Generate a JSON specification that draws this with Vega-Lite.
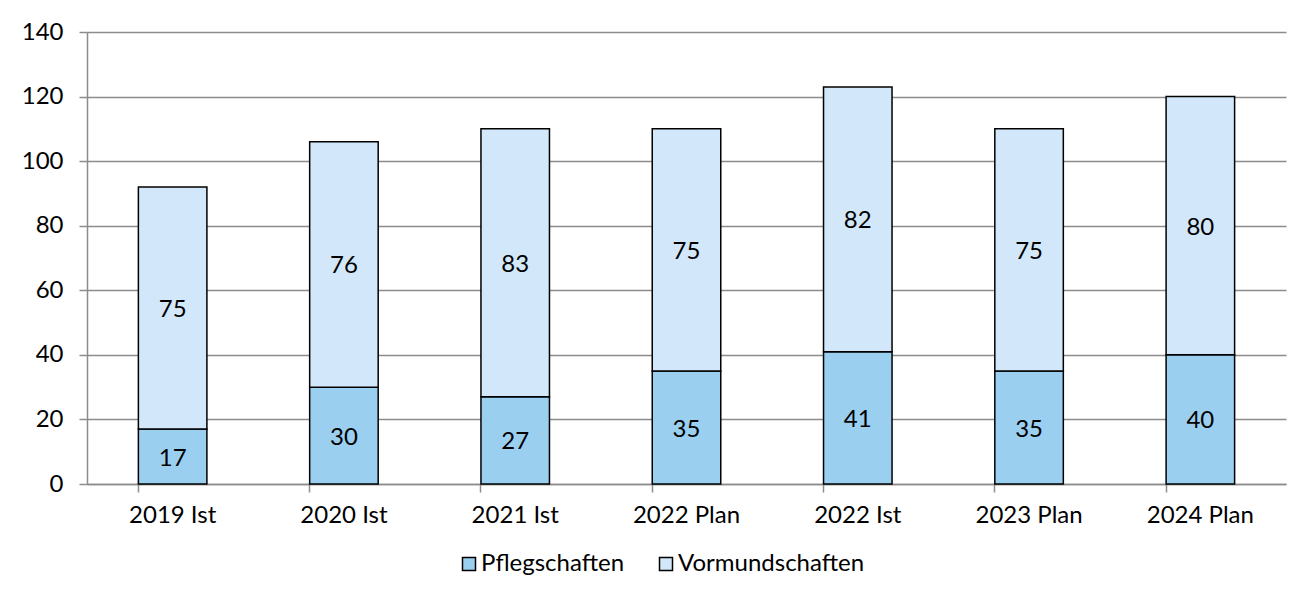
{
  "$schema": "https://vega.github.io/schema/vega-lite/v6.json",
  "width": 1199,
  "height": 452,
  "autosize": "none",
  "padding": {"left": 87, "top": 32, "right": 27, "bottom": 112},
  "background": "white",
  "config": {
    "font": "Lato",
    "view": {"stroke": null}
  },
  "data": {
    "values": [
      {"cat": "2019 Ist", "series": "Pflegschaften", "ord": 1, "value": 17},
      {"cat": "2019 Ist", "series": "Vormundschaften", "ord": 2, "value": 75},
      {"cat": "2020 Ist", "series": "Pflegschaften", "ord": 1, "value": 30},
      {"cat": "2020 Ist", "series": "Vormundschaften", "ord": 2, "value": 76},
      {"cat": "2021 Ist", "series": "Pflegschaften", "ord": 1, "value": 27},
      {"cat": "2021 Ist", "series": "Vormundschaften", "ord": 2, "value": 83},
      {"cat": "2022 Plan", "series": "Pflegschaften", "ord": 1, "value": 35},
      {"cat": "2022 Plan", "series": "Vormundschaften", "ord": 2, "value": 75},
      {"cat": "2022 Ist", "series": "Pflegschaften", "ord": 1, "value": 41},
      {"cat": "2022 Ist", "series": "Vormundschaften", "ord": 2, "value": 82},
      {"cat": "2023 Plan", "series": "Pflegschaften", "ord": 1, "value": 35},
      {"cat": "2023 Plan", "series": "Vormundschaften", "ord": 2, "value": 75},
      {"cat": "2024 Plan", "series": "Pflegschaften", "ord": 1, "value": 40},
      {"cat": "2024 Plan", "series": "Vormundschaften", "ord": 2, "value": 80}
    ]
  },
  "transform": [
    {"stack": "value", "groupby": ["cat"], "sort": [{"field": "ord", "order": "ascending"}], "as": ["v0", "v1"]},
    {"calculate": "(datum.v0 + datum.v1) / 2", "as": "vmid"}
  ],
  "encoding": {
    "x": {
      "field": "cat", "type": "nominal", "sort": null,
      "scale": {"paddingInner": 0.6, "paddingOuter": 0.3},
      "axis": {
        "title": null, "labelAngle": 0, "labelPadding": 11, "tickSize": 8,
        "labelFont": "Lato", "labelFontSize": 24, "labelColor": "black",
        "bandPosition": 0, "domainColor": "#8c8c8c", "domainWidth": 1.5,
        "tickColor": "#8c8c8c", "tickWidth": 1.5, "grid": false
      }
    }
  },
  "layer": [
    {
      "mark": {"type": "bar", "stroke": "black", "strokeWidth": 1.5},
      "encoding": {
        "y": {
          "field": "v0", "type": "quantitative",
          "scale": {"domain": [0, 140], "nice": false},
          "axis": {
            "title": null, "values": [0, 20, 40, 60, 80, 100, 120, 140],
            "labelFont": "Lato", "labelFontSize": 24, "labelColor": "black",
            "tickSize": 8, "labelPadding": 16, "tickColor": "#8c8c8c", "tickWidth": 1.5,
            "domainColor": "#8c8c8c", "domainWidth": 1.5,
            "gridColor": "#8c8c8c", "gridWidth": 1.5
          }
        },
        "y2": {"field": "v1"},
        "color": {
          "field": "series", "type": "nominal",
          "scale": {"domain": ["Pflegschaften", "Vormundschaften"], "range": ["#9BCFF0", "#D2E8FA"]},
          "legend": {
            "title": null, "orient": "none", "direction": "horizontal",
            "legendX": 370, "legendY": 520, "labelLimit": 0,
            "labelFont": "Lato", "labelFontSize": 24, "labelColor": "black",
            "symbolType": "square", "symbolSize": 169, "symbolStrokeColor": "black",
            "symbolStrokeWidth": 1.5, "symbolOpacity": 1, "columnPadding": 29, "labelOffset": 0
          }
        }
      }
    },
    {
      "mark": {"type": "text", "fontSize": 24, "font": "Lato", "color": "black", "baseline": "middle", "dy": 2},
      "encoding": {
        "y": {"field": "vmid", "type": "quantitative"},
        "text": {"field": "value", "type": "quantitative"}
      }
    }
  ]
}
